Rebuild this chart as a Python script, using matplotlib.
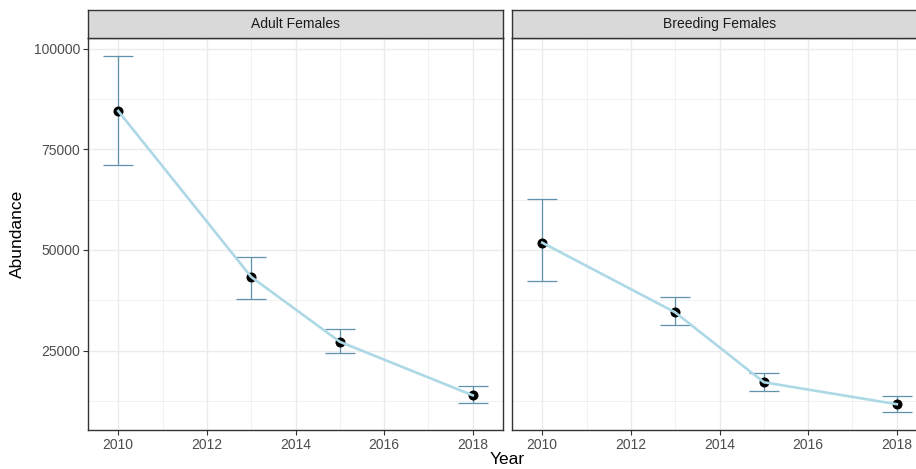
import matplotlib.pyplot as plt
from matplotlib.ticker import MultipleLocator

plt.rcParams['font.family'] = ['Liberation Sans', 'DejaVu Sans']

# data
years = [2010, 2013, 2015, 2018]
panels = ["Adult Females", "Breeding Females"]
abundance = {
    "Adult Females": [84500, 43300, 27200, 13900],
    "Breeding Females": [51800, 34500, 17150, 11700],
}
upper = {
    "Adult Females": [98200, 48300, 30400, 16300],
    "Breeding Females": [62600, 38300, 19500, 13700],
}
lower = {
    "Adult Females": [71000, 37900, 24300, 12000],
    "Breeding Females": [42300, 31300, 15100, 9850],
}

W, H = 916, 469
fig = plt.figure(figsize=(W / 100, H / 100), dpi=100)

# panel boxes in pixels (left, top, right, bottom); right panel runs past the edge
boxes = [(88.3, 37.7, 502.7, 429.5), (512.3, 37.7, 926.7, 429.5)]
strip_top = 10.0

err_col = '#5f93ad'
line_col = '#add8e6'
border = '#333333'
grid_col = '#ebebeb'

for i, (name, (l, t, r, b)) in enumerate(zip(panels, boxes)):
    ax = fig.add_axes([l / W, 1 - b / H, (r - l) / W, (b - t) / H])
    y = abundance[name]
    lo = [v - d for v, d in zip(y, lower[name])]
    hi = [u - v for v, u in zip(y, upper[name])]
    ax.errorbar(years, y, yerr=[lo, hi], fmt='none', ecolor=err_col,
                elinewidth=0.9, capsize=11, capthick=0.9, zorder=2)
    ax.plot(years, y, 'o', color='black', markersize=6.2, zorder=3)
    ax.plot(years, y, '-', color=line_col, linewidth=1.9, zorder=4)

    ax.set_xlim(2009.325, 2018.675)
    ax.set_ylim(5420, 102690)
    ax.xaxis.set_major_locator(MultipleLocator(2))
    ax.xaxis.set_minor_locator(MultipleLocator(1))
    ax.yaxis.set_major_locator(MultipleLocator(25000))
    ax.yaxis.set_minor_locator(MultipleLocator(12500))
    ax.grid(True, which='major', color=grid_col, linewidth=1.0, zorder=0)
    ax.grid(True, which='minor', color=grid_col, linewidth=0.5, zorder=0)
    ax.set_axisbelow(True)
    for s in ax.spines.values():
        s.set_color(border)
        s.set_linewidth(1.0)
    ax.tick_params(which='major', length=3.5, width=0.8, color=border,
                   labelsize=10, labelcolor='#4d4d4d', pad=2.5)
    ax.tick_params(which='minor', length=0)
    if i == 1:
        ax.tick_params(axis='y', which='both', left=False, labelleft=False)

    # facet strip
    sx = fig.add_axes([l / W, 1 - t / H, (r - l) / W, (t - strip_top) / H])
    sx.set_facecolor('#d9d9d9')
    sx.set_xticks([])
    sx.set_yticks([])
    for s in sx.spines.values():
        s.set_color(border)
        s.set_linewidth(1.0)
    sx.text(0.5, 0.5, name, transform=sx.transAxes, ha='center', va='center',
            fontsize=10, color='#1a1a1a')

fig.text(507.5 / W, 1 - 459 / H, "Year", ha='center', va='center', fontsize=12.5)
fig.text(17 / W, 1 - 234 / H, "Abundance", ha='center', va='center',
         rotation=90, fontsize=12.5)

fig.savefig("out.png", dpi=100)
